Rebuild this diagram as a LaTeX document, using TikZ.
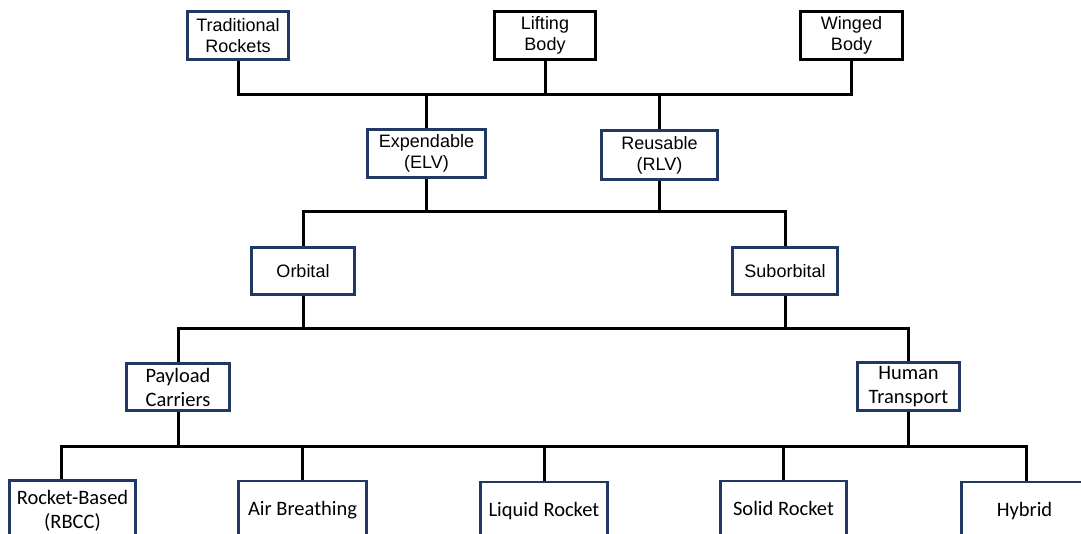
\documentclass[tikz,border=0pt]{standalone}
\usepackage{fontspec}
\setmainfont{Liberation Sans}
\newfontfamily\calib{Carlito}
\definecolor{navy}{RGB}{31,56,100}
\begin{document}
\begin{tikzpicture}[x=1pt,y=-1pt,
  box/.style={draw=navy, line width=2.8pt, fill=white, align=center, inner sep=0pt},
  kbox/.style={box, draw=black},
  afont/.style={font=\fontsize{18}{21}\selectfont},
  cfont/.style={font=\calib\fontsize{20.5}{24}\selectfont},
  oneline/.style={text height=14.4pt, text depth=5pt},
  link/.style={line width=3pt, draw=black}
]
\useasboundingbox (0,0) rectangle (1081,533);
\clip (0,0) rectangle (1081,533);

% vehicle configuration
\node[box, afont, minimum width=101, minimum height=48] (trad) at (238,35.5) {Traditional\\Rockets};
\node[kbox, afont, minimum width=101, minimum height=48] (lift) at (545,35.5) {Lifting\\Body};
\node[kbox, afont, minimum width=102, minimum height=48] (wing) at (851.5,35.5) {Winged\\Body};

% expendable / reusable
\node[box, afont, minimum width=118, minimum height=48] (elv) at (426.5,153.5) {Expendable\\(ELV)};
\node[box, afont, minimum width=116, minimum height=49] (rlv) at (659.5,155) {Reusable\\(RLV)};

% mission profile
\node[box, afont, minimum width=103, minimum height=47] (orb) at (303,271) {Orbital};
\node[box, afont, minimum width=105, minimum height=47] (sub) at (785,271) {Suborbital};

% payload type
\node[box, cfont, minimum width=103, minimum height=47] (pay) at (178,387) {Payload\\Carriers};
\node[box, cfont, minimum width=102, minimum height=48] (hum) at (908.5,386.5) {Human\\Transport};

% propulsion
\node[box, cfont, minimum width=126, minimum height=60] (rbcc) at (72.5,510.5) {Rocket-Based\\(RBCC)};
\node[box, cfont, oneline, minimum width=128, minimum height=60] (air) at (302.5,511) {Air Breathing};
\node[box, cfont, oneline, minimum width=127, minimum height=60] (liq) at (544,512) {Liquid Rocket};
\node[box, cfont, oneline, minimum width=126, minimum height=60] (sol) at (783.5,511) {Solid Rocket};
\node[box, cfont, oneline, minimum width=126, minimum height=60] (hyb) at (1024.5,512) {Hybrid};

% bus lines
\coordinate (b1) at (0,94);
\coordinate (b2) at (0,211);
\coordinate (b3) at (0,328);
\coordinate (b4l) at (61,446);
\coordinate (b4r) at (1026,446);

\draw[link] (trad.south) -- (trad.south |- b1) -- (wing.south |- b1) -- (wing.south);
\draw[link] (lift.south) -- (lift.south |- b1);
\draw[link] (elv.north) -- (elv.north |- b1);
\draw[link] (rlv.north) -- (rlv.north |- b1);

\draw[link] (orb.north) -- (orb.north |- b2) -- (sub.north |- b2) -- (sub.north);
\draw[link] (elv.south) -- (elv.south |- b2);
\draw[link] (rlv.south) -- (rlv.south |- b2);

\draw[link] (pay.north) -- (pay.north |- b3) -- (hum.north |- b3) -- (hum.north);
\draw[link] (orb.south) -- (orb.south |- b3);
\draw[link] (sub.south) -- (sub.south |- b3);

\draw[link] (rbcc.north -| b4l) -- (b4l) -- (b4r) -- (hyb.north -| b4r);
\draw[link] (pay.south) -- (pay.south |- b4l);
\draw[link] (hum.south) -- (hum.south |- b4l);
\draw[link] (air.north) -- (air.north |- b4l);
\draw[link] (liq.north) -- (liq.north |- b4l);
\draw[link] (sol.north) -- (sol.north |- b4l);
\end{tikzpicture}
\end{document}
